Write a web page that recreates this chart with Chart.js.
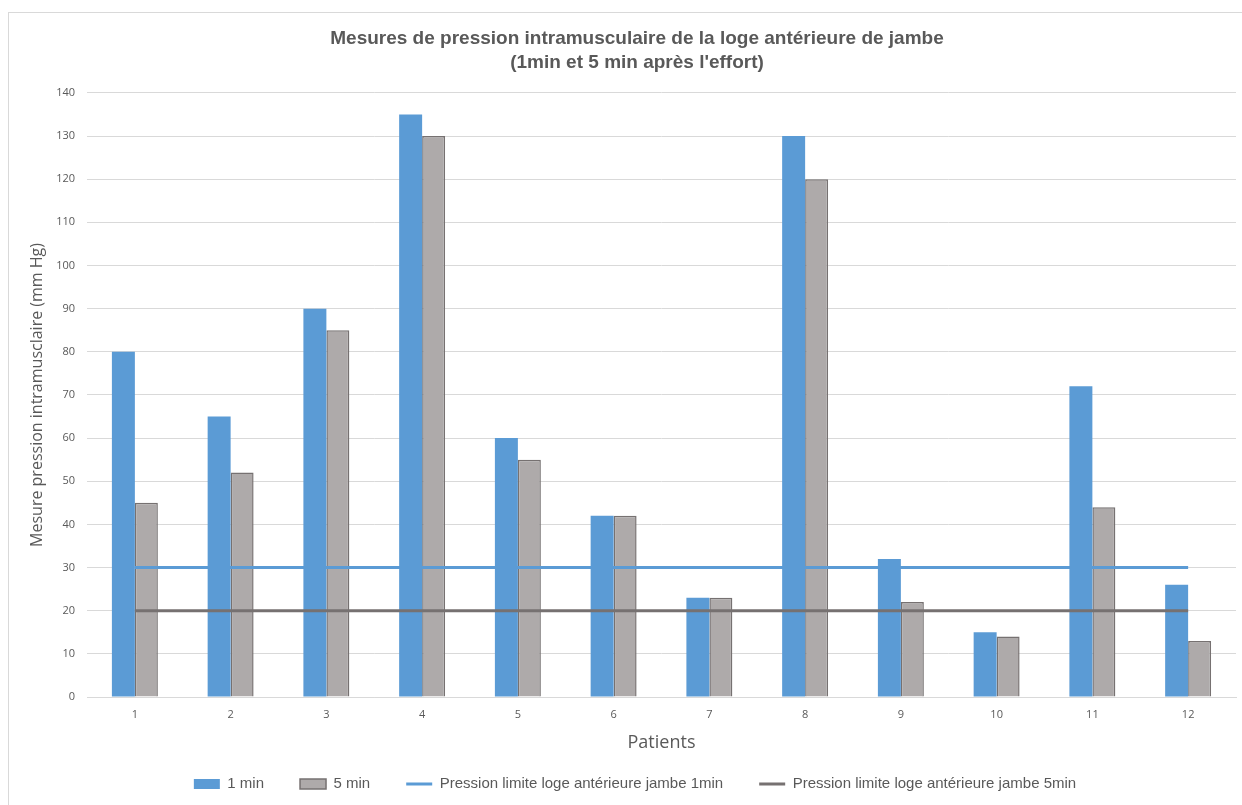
<!DOCTYPE html>
<html lang="fr">
<head>
<meta charset="utf-8">
<title>Mesures de pression intramusculaire</title>
<script src="https://cdn.jsdelivr.net/npm/chart.js@4.4.1/dist/chart.umd.min.js"></script>
<style>
    html, body { margin: 0; padding: 0; background: #ffffff; overflow: hidden; }
    #frame {
        position: absolute; left: 8px; top: 12px;
        width: 1300px; height: 900px;
        border: 1px solid #d9d9d9; box-sizing: border-box;
    }
    #chart { position: absolute; left: 0; top: 0; }
</style>
</head>
<body>
<div id="frame"></div>
<canvas id="chart" width="1242" height="805"></canvas>
<script>
// Données (mm Hg)
const patients = ['1', '2', '3', '4', '5', '6', '7', '8', '9', '10', '11', '12'];
const apres1min = [80, 65, 90, 135, 60, 42, 23, 130, 32, 15, 72, 26];
const apres5min = [45, 52, 85, 130, 55, 42, 23, 120, 22, 14, 44, 13];
const limite1min = [30, 30, 30, 30, 30, 30, 30, 30, 30, 30, 30, 30];
const limite5min = [20, 20, 20, 20, 20, 20, 20, 20, 20, 20, 20, 20];

const BLEU = '#5b9bd5';
const GRIS = '#aeaaaa';
const GRIS_FONCE = '#767171';
const TEXTE = '#595959';
const POLICE_ETROITE = '"Liberation Sans Narrow", "Liberation Sans", sans-serif';

document.addEventListener('DOMContentLoaded', () => {
    renderChart();
});

// le titre et la légende d'Excel sont un peu décalés vers la droite
const decalage = {
    id: 'decalage',
    afterLayout(chart) {
        chart.titleBlock.left += 19;
        chart.titleBlock.right += 19;
        chart.legend.left += 17;
        chart.legend.right += 17;
    }
};

function renderChart() {
    const ctx = document.getElementById('chart').getContext('2d');

    new Chart(ctx, {
        data: {
            labels: patients,
            datasets: [
                {
                    type: 'bar', label: '1 min', data: apres1min,
                    backgroundColor: BLEU, borderWidth: 0, order: 1
                },
                {
                    type: 'bar', label: '5 min', data: apres5min,
                    backgroundColor: GRIS, borderColor: GRIS_FONCE, borderWidth: 1.5, order: 1
                },
                {
                    type: 'line', label: 'Pression limite loge antérieure jambe 1min', data: limite1min,
                    borderColor: BLEU, backgroundColor: BLEU, borderWidth: 3, pointRadius: 0, order: 0
                },
                {
                    type: 'line', label: 'Pression limite loge antérieure jambe 5min', data: limite5min,
                    borderColor: GRIS_FONCE, backgroundColor: GRIS_FONCE, borderWidth: 3, pointRadius: 0, order: 0
                }
            ]
        },
        plugins: [decalage],
        options: {
            responsive: false,
            animation: false,
            devicePixelRatio: 1,
            layout: { padding: { left: 0, right: 6, top: 0, bottom: 3.5 } },
            datasets: {
                bar: { categoryPercentage: 0.48, barPercentage: 1 }
            },
            plugins: {
                title: {
                    display: true,
                    text: ['Mesures de pression intramusculaire de la loge antérieure de jambe',
                           "(1min et 5 min après l'effort)"],
                    color: TEXTE,
                    font: { family: POLICE_ETROITE, size: 19, weight: 'bold', lineHeight: 1.26 },
                    padding: { top: 27, bottom: 18 }
                },
                legend: {
                    position: 'bottom',
                    labels: {
                        color: TEXTE,
                        font: { family: POLICE_ETROITE, size: 15 },
                        usePointStyle: true,
                        pointStyleWidth: 26,
                        boxHeight: 10,
                        padding: 36,
                        sort: (a, b) => a.datasetIndex - b.datasetIndex,
                        generateLabels: (chart) => {
                            const items = Chart.defaults.plugins.legend.labels.generateLabels(chart);
                            return items.map(it => {
                                const ds = chart.data.datasets[it.datasetIndex];
                                it.pointStyle = ds.type === 'line' ? 'line' : 'rect';
                                if (ds.type === 'bar') it.lineWidth = ds.borderWidth;
                                return it;
                            });
                        }
                    }
                },
                tooltip: { enabled: false }
            },
            scales: {
                x: {
                    grid: { display: false, drawTicks: false },
                    border: { color: '#d9d9d9' },
                    ticks: { color: TEXTE, font: { family: '"Open Sans", sans-serif', size: 11 }, padding: 11 },
                    title: {
                        display: true, text: 'Patients', color: TEXTE,
                        font: { family: '"Open Sans", sans-serif', size: 18 },
                        padding: { top: 0, bottom: -13 }
                    },
                    afterFit: (scale) => { scale.height = 43.5; }
                },
                y: {
                    min: 0, max: 140,
                    ticks: { stepSize: 10, color: TEXTE, font: { family: '"Open Sans", sans-serif', size: 11 }, padding: 12 },
                    grid: { color: '#d9d9d9', drawTicks: false },
                    border: { display: false },
                    title: {
                        display: true, text: 'Mesure pression intramusclaire (mm Hg)', color: TEXTE,
                        font: { family: '"Open Sans", sans-serif', size: 16 },
                        padding: { top: 28, bottom: 0 }
                    },
                    afterFit: (scale) => { scale.width = 87; }
                }
            }
        }
    });
}
</script>
</body>
</html>
